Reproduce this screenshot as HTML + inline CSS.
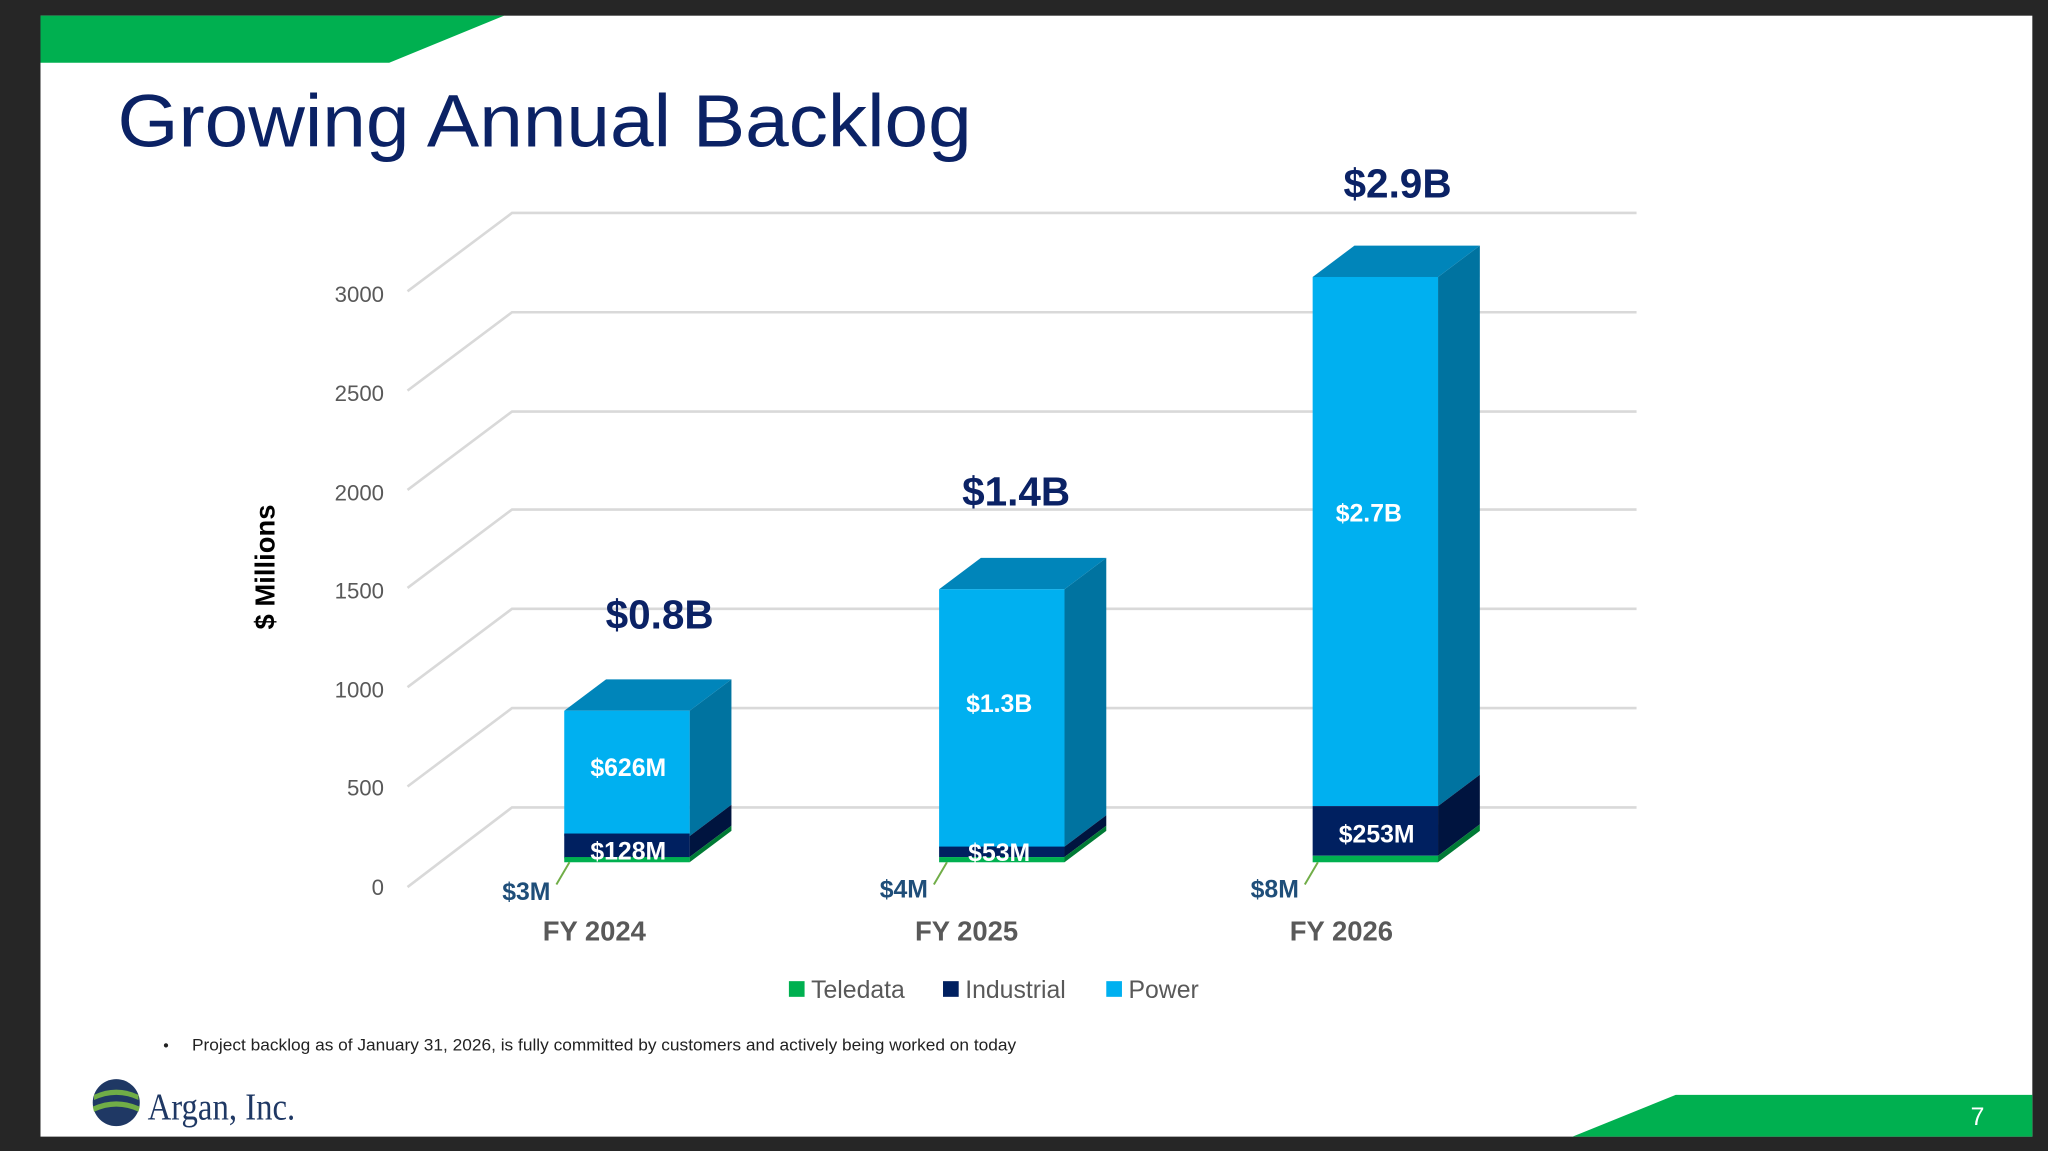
<!DOCTYPE html>
<html><head><meta charset="utf-8"><style>
html,body{margin:0;padding:0;background:#262626;}
svg{display:block;}
text{font-family:"Liberation Sans",sans-serif;}
</style></head><body>
<svg width="2048" height="1151" viewBox="0 0 1568 881" preserveAspectRatio="none" xmlns="http://www.w3.org/2000/svg">
<rect x="0" y="0" width="1568" height="881" fill="#262626"/>
<rect x="31" y="12" width="1525" height="858" fill="#ffffff"/>
<polygon points="31,12 386,12 298,48 31,48" fill="#00B050"/>
<polygon points="1204,870 1283,838 1556,838 1556,870" fill="#00B050"/>
<text x="1514" y="861" font-size="19" fill="#fff" text-anchor="middle">7</text>
<text x="90" y="112" font-size="57" fill="#0B2265" textLength="654" lengthAdjust="spacingAndGlyphs">Growing Annual Backlog</text>

<g stroke="#d9d9d9" stroke-width="2" fill="none">
<polyline points="312,223 392,163 1253,163"/>
<polyline points="312,299 392,239 1253,239"/>
<polyline points="312,375 392,315 1253,315"/>
<polyline points="312,450 392,390 1253,390"/>
<polyline points="312,526 392,466 1253,466"/>
<polyline points="312,602 392,542 1253,542"/>
<polyline points="312,679 392,618 1253,618"/>
</g>
<g font-size="17" fill="#595959" text-anchor="end">
<text x="294" y="231">3000</text><text x="294" y="307">2500</text><text x="294" y="383">2000</text>
<text x="294" y="458">1500</text><text x="294" y="534">1000</text><text x="294" y="609">500</text><text x="294" y="685">0</text>
</g>
<text transform="translate(210,434) rotate(-90)" font-size="21" font-weight="bold" fill="#000" text-anchor="middle">$ Millions</text>

<g>
<polygon points="528,544 560,520 560,616 528,640" fill="#0073A0"/>
<polygon points="432,544 464,520 560,520 528,544" fill="#0085BA"/>
<rect x="432" y="544" width="96" height="96" fill="#00B0F0"/>
<polygon points="528,640 560,616 560,632 528,656" fill="#00143F"/>
<rect x="432" y="638" width="96" height="19" fill="#002060"/>
<polygon points="528,656 560,632 560,636 528,660" fill="#007A35"/>
<rect x="432" y="656" width="96" height="4" fill="#00B050"/>

<polygon points="815,451 847,427 847,624 815,648" fill="#0073A0"/>
<polygon points="719,451 751,427 847,427 815,451" fill="#0085BA"/>
<rect x="719" y="451" width="96" height="198" fill="#00B0F0"/>
<polygon points="815,648 847,624 847,632 815,656" fill="#00143F"/>
<rect x="719" y="648" width="96" height="8" fill="#002060"/>
<polygon points="815,656 847,632 847,636 815,660" fill="#007A35"/>
<rect x="719" y="656" width="96" height="4" fill="#00B050"/>

<polygon points="1101,212 1133,188 1133,593 1101,617" fill="#0073A0"/>
<polygon points="1005,212 1037,188 1133,188 1101,212" fill="#0085BA"/>
<rect x="1005" y="212" width="96" height="405" fill="#00B0F0"/>
<polygon points="1101,617 1133,593 1133,631 1101,655" fill="#00143F"/>
<rect x="1005" y="617" width="96" height="38" fill="#002060"/>
<polygon points="1101,655 1133,631 1133,636 1101,660" fill="#007A35"/>
<rect x="1005" y="655" width="96" height="5" fill="#00B050"/>
</g>

<g font-weight="bold" fill="#0B2265" font-size="31" text-anchor="middle">
<text x="505" y="481">$0.8B</text><text x="778" y="387">$1.4B</text><text x="1070" y="151">$2.9B</text>
</g>
<g font-weight="bold" fill="#fff" font-size="19" text-anchor="middle">
<text x="481" y="594">$626M</text><text x="481" y="658">$128M</text>
<text x="765" y="545">$1.3B</text><text x="765" y="659">$53M</text>
<text x="1048" y="399">$2.7B</text><text x="1054" y="645">$253M</text>
</g>
<g stroke="#70AD47" stroke-width="1.5">
<line x1="426" y1="677" x2="436" y2="660"/><line x1="715" y1="677" x2="725" y2="660"/><line x1="999" y1="677" x2="1009" y2="660"/>
</g>
<g font-weight="bold" fill="#1F4E79" font-size="19" text-anchor="middle">
<text x="403" y="689">$3M</text><text x="692" y="687">$4M</text><text x="976" y="687">$8M</text>
</g>
<g font-weight="bold" fill="#595959" font-size="21" text-anchor="middle">
<text x="455" y="720">FY 2024</text><text x="740" y="720">FY 2025</text><text x="1027" y="720">FY 2026</text>
</g>
<g font-size="19" fill="#595959">
<rect x="604" y="751" width="12" height="12" fill="#00B050"/><text x="621" y="764">Teledata</text>
<rect x="722" y="751" width="12" height="12" fill="#002060"/><text x="739" y="764">Industrial</text>
<rect x="847" y="751" width="12" height="12" fill="#00B0F0"/><text x="864" y="764">Power</text>
</g>
<text x="125" y="804" font-size="12" fill="#222">•</text>
<text x="147" y="804" font-size="12.5" fill="#222" textLength="631" lengthAdjust="spacingAndGlyphs">Project backlog as of January 31, 2026, is fully committed by customers and actively being worked on today</text>
<circle cx="89" cy="844" r="18" fill="#1F3864"/>
<path d="M72,838 Q89,830 106,838 L106,842 Q89,834 72,842Z" fill="#70AD47"/>
<path d="M71,847 Q89,839 107,847 L106,851 Q89,843 72,851Z" fill="#70AD47"/>
<text x="113" y="857" style="font-family:'Liberation Serif',serif" font-size="29" fill="#1F3864" textLength="113" lengthAdjust="spacingAndGlyphs">Argan, Inc.</text>
</svg>
</body></html>
